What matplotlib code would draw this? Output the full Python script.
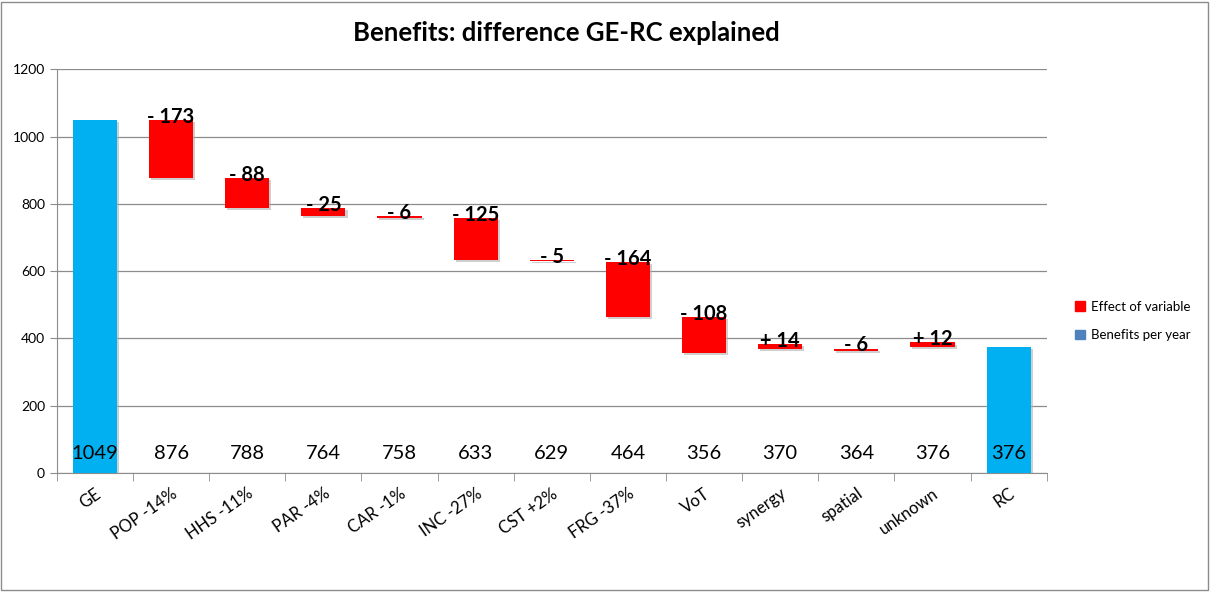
import matplotlib.pyplot as plt
import matplotlib.patheffects as pe
from matplotlib.patches import Rectangle, Patch

plt.rcParams['font.family'] = ['Lato', 'DejaVu Sans']

categories = ['GE', 'POP -14%', 'HHS -11%', 'PAR -4%', 'CAR -1%', 'INC -27%',
              'CST +2%', 'FRG -37%', 'VoT', 'synergy', 'spatial', 'unknown', 'RC']
totals = [1049, 876, 788, 764, 758, 633, 629, 464, 356, 370, 364, 376, 376]
changes = [None, -173, -88, -25, -6, -125, -5, -164, -108, 14, -6, 12, None]

blue = '#00B0F0'
red = '#FF0000'
shadow = [pe.SimplePatchShadow(offset=(1.5, -1.5), shadow_rgbFace='#b0b0b0', alpha=0.6), pe.Normal()]

fig = plt.figure(figsize=(12.1, 5.92), dpi=100)
ax = fig.add_axes([0.047, 0.201, 0.818, 0.682])

x = list(range(len(categories)))
for i, cat in enumerate(categories):
    if changes[i] is None:
        ax.bar(i, totals[i], width=0.58, color=blue, zorder=3, path_effects=shadow)
    else:
        ax.bar(i, abs(changes[i]), bottom=totals[i], width=0.58, color=red,
               zorder=3, path_effects=shadow)
        sign = '+' if changes[i] > 0 else '-'
        ax.text(i, totals[i] + abs(changes[i]) + 9, f'{sign} {abs(changes[i])}',
                ha='center', va='center', fontsize=14.5, fontweight='bold', zorder=5)
    ax.text(i, 59, str(totals[i]), ha='center', va='center', fontsize=14.5, zorder=5)

ax.set_ylim(0, 1200)
ax.set_xlim(-0.5, len(categories) - 0.5)
ax.set_yticks(range(0, 1201, 200))
ax.yaxis.grid(True, color='#8c8c8c', linewidth=0.9, zorder=0)
ax.set_axisbelow(True)
ax.set_xticks(x)
ax.set_xticklabels(categories, rotation=35, ha='right', rotation_mode='anchor', fontsize=12)
ax.tick_params(axis='x', length=0, pad=9)
ax.set_xticks([i - 0.5 for i in range(len(categories) + 1)], minor=True)
ax.tick_params(axis='x', which='minor', length=6, color='#8c8c8c')
ax.tick_params(axis='y', length=5, color='#8c8c8c', labelsize=10)
for s in ['top', 'right']:
    ax.spines[s].set_visible(False)
for s in ['left', 'bottom']:
    ax.spines[s].set_color('#8c8c8c')

fig.text(0.468, 0.945, 'Benefits: difference GE-RC explained', ha='center', va='center',
         fontsize=18.5, fontweight='bold')

handles = [Patch(color=red, label='Effect of variable'),
           Patch(color='#4F81BD', label='Benefits per year')]
fig.legend(handles=handles, loc='center left', bbox_to_anchor=(0.879, 0.458),
           frameon=False, fontsize=9.5, handlelength=0.7, handleheight=0.7,
           handletextpad=0.5, labelspacing=1.25)

fig.patches.append(Rectangle((0.001, 0.003), 0.997, 0.994, transform=fig.transFigure,
                             fill=False, edgecolor='#8c8c8c', linewidth=1))

fig.savefig('out.png', dpi=100)
